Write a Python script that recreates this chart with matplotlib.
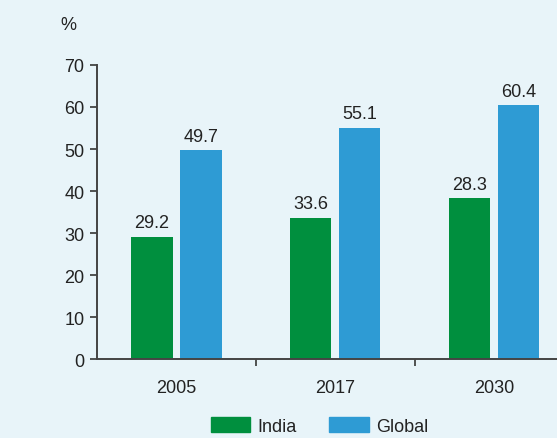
import numpy as np
import matplotlib.pyplot as plt
from matplotlib.patches import Patch

plt.rcParams["font.family"] = ["Liberation Sans", "DejaVu Sans"]

# data
years = ["2005", "2017", "2030"]
india = [29.2, 33.6, 38.3]
global_vals = [49.7, 55.1, 60.4]
# labels as printed on the original (2030 India reads 28.3 there)
india_labels = ["29.2", "33.6", "28.3"]
global_labels = ["49.7", "55.1", "60.4"]

BG = "#e8f4f9"
GREEN = "#008f3e"
BLUE = "#2e9bd4"
INK = "#222222"
FS = 13

fig = plt.figure(figsize=(5.57, 4.39), dpi=100, facecolor=BG)
ax = fig.add_axes([0.174, 0.179, 0.856, 0.671])
ax.set_facecolor(BG)

x = np.arange(len(years))
width = 0.26
off = 0.154
b1 = ax.bar(x - off, india, width, color=GREEN)
b2 = ax.bar(x + off, global_vals, width, color=BLUE)

for rect, lab in zip(b1, india_labels):
    ax.annotate(lab, (rect.get_x() + rect.get_width() / 2, rect.get_height()),
                xytext=(0, 4), textcoords="offset points",
                ha="center", va="bottom", fontsize=FS, color=INK)
for rect, lab in zip(b2, global_labels):
    ax.annotate(lab, (rect.get_x() + rect.get_width() / 2, rect.get_height()),
                xytext=(0, 4), textcoords="offset points",
                ha="center", va="bottom", fontsize=FS, color=INK)

ax.set_xlim(-0.5, len(years) - 0.5)
ax.set_ylim(0, 70)
ax.set_yticks(np.arange(0, 71, 10))

ax.set_xticks(x)
ax.set_xticklabels(years)
ax.set_xticks(x[:-1] + 0.5, minor=True)
ax.tick_params(axis="x", which="major", length=0, pad=14, labelsize=FS, labelcolor=INK)
ax.tick_params(axis="x", which="minor", length=5, width=1.3, color="#444444")
ax.tick_params(axis="y", length=5, width=1.3, color="#444444", labelsize=FS,
               labelcolor=INK, pad=4)

for side in ["top", "right"]:
    ax.spines[side].set_visible(False)
for side in ["left", "bottom"]:
    ax.spines[side].set_color("#444444")
    ax.spines[side].set_linewidth(1.4)

fig.text(0.122, 0.943, "%", ha="center", va="center", fontsize=FS, color=INK)

handles = [Patch(color=GREEN, label="India"), Patch(color=BLUE, label="Global")]
fig.legend(handles=handles, loc="center", bbox_to_anchor=(0.574, 0.027), ncol=2,
           frameon=False, fontsize=FS, handlelength=2.2, handleheight=0.9,
           handletextpad=0.4, columnspacing=1.8, labelcolor=INK)

fig.savefig("out.png", dpi=100, facecolor=BG)
